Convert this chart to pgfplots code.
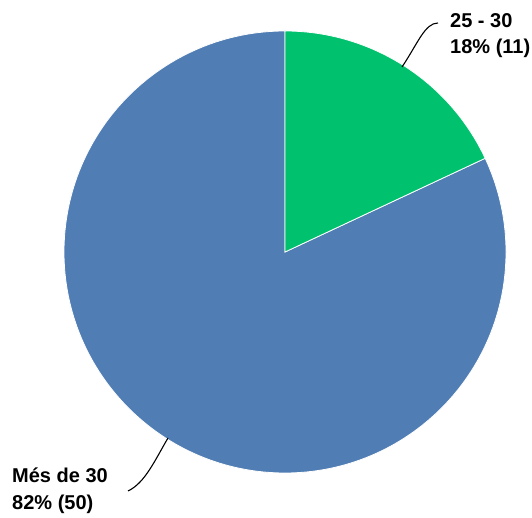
\documentclass[border=0pt]{standalone}
\usepackage{fontspec}
\setmainfont{Liberation Sans}
\usepackage{pgfplots}
\usepackage{pgfplotstable}
\pgfplotsset{compat=1.18}
\definecolor{pieblue}{HTML}{4F7DB4}
\definecolor{piegreen}{HTML}{00C16E}
\pgfplotstableread{
label value
25-30 11
mes30 50
}\piedata
\begin{document}
\begin{tikzpicture}
\pgfplotstablegetelem{0}{value}\of\piedata \let\vA\pgfplotsretval
\pgfplotstablegetelem{1}{value}\of\piedata \let\vB\pgfplotsretval
\pgfmathsetmacro{\angA}{\vA/(\vA+\vB)*360}
\pgfmathsetmacro{\startA}{90-\angA}
\begin{axis}[
  width=532pt, height=518pt, scale only axis,
  xmin=0, xmax=532, ymin=0, ymax=518,
  hide axis, clip=false,
]
% blue slice
\fill[pieblue, draw=white, line width=0.8pt] (axis cs:285,266) -- ++(90:221pt) arc[start angle=90, end angle=360+\startA, radius=221pt] -- cycle;
% green slice
\fill[piegreen, draw=white, line width=0.8pt] (axis cs:285,266) -- ++(\startA:221pt) arc[start angle=\startA, end angle=90, radius=221pt] -- cycle;
% leader lines
\draw[black, line width=1.1pt] (axis cs:402,451) .. controls (axis cs:418,475) and (axis cs:425,495) .. (axis cs:438,495);
\draw[black, line width=1.1pt] (axis cs:168,80) .. controls (axis cs:155,58) and (axis cs:145,35) .. (axis cs:128,27);
% labels
\node[anchor=base west, inner sep=0pt, font=\fontsize{20}{24}\selectfont\bfseries] at (axis cs:450,490) {25 - 30};
\node[anchor=base west, inner sep=0pt, font=\fontsize{20}{24}\selectfont\bfseries] at (axis cs:450,464) {18\% (11)};
\node[anchor=base west, inner sep=0pt, font=\fontsize{20}{24}\selectfont\bfseries] at (axis cs:12,35) {Més de 30};
\node[anchor=base west, inner sep=0pt, font=\fontsize{20}{24}\selectfont\bfseries] at (axis cs:12,8) {82\% (50)};
\end{axis}
\pgfresetboundingbox
\path (0,0) rectangle (532pt,518pt);
\end{tikzpicture}
\end{document}
